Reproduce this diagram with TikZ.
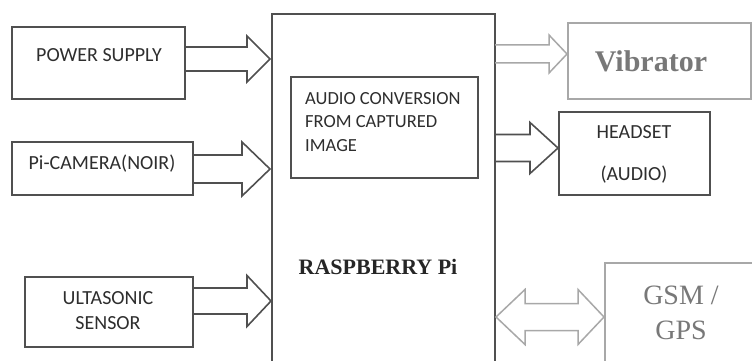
\documentclass[tikz,border=0pt]{standalone}
\usepackage{fontspec}
\setmainfont{Liberation Serif}
\newfontfamily\calfont{Carlito}
\definecolor{dk}{HTML}{505050}
\definecolor{lt}{HTML}{A8A8A8}
\definecolor{txt}{HTML}{2E2E2E}
\definecolor{ltxt}{HTML}{787878}
\newcommand\blockarr[7]{% style, x0, yc, sh, hh, xb, xt
  \draw[#1] ({#2},{#3-#4}) -- ({#6},{#3-#4}) -- ({#6},{#3-#5}) -- ({#7},{#3}) -- ({#6},{#3+#5}) -- ({#6},{#3+#4}) -- ({#2},{#3+#4});}
\begin{document}
\begin{tikzpicture}[x=1pt,y=-1pt,
  dbox/.style={draw=dk,line width=1.6pt,inner sep=0pt},
  lbox/.style={draw=lt,line width=1.5pt,inner sep=0pt},
  darr/.style={draw=dk,line width=1.6pt,line join=miter},
  larr/.style={draw=lt,line width=1.5pt,line join=miter},
  sanslab/.style={inner sep=0pt,text=txt,font=\calfont\fontsize{20}{25}\selectfont,align=center},
  audlab/.style={inner sep=0pt,text=txt,font=\calfont\fontsize{18.5}{23.5}\selectfont,align=left}]
\useasboundingbox (0,0) rectangle (752,361);
\clip (0,0) rectangle (752,361);
\fill[white] (0,0) rectangle (752,361);
% boxes
\node[dbox,minimum width=173pt,minimum height=72pt] (ps) at (98.5,63) {};
\node[dbox,minimum width=181pt,minimum height=53pt] (cam) at (102.5,168.5) {};
\node[dbox,minimum width=168pt,minimum height=70pt] (us) at (109,312) {};
\node[dbox,minimum width=223pt,minimum height=420pt] (rpi) at (383.5,224) {};
\node[dbox,line width=1.4pt,minimum width=187pt,minimum height=101pt] (aud) at (384.5,127.5) {};
\node[lbox,minimum width=183pt,minimum height=76pt] (vib) at (659.5,61) {};
\node[dbox,line width=1.4pt,minimum width=151pt,minimum height=83pt] (hs) at (634.5,153.5) {};
\node[lbox,minimum width=200pt,minimum height=160pt] (gsm) at (705,343) {};
% labels
\node[sanslab] (pst) at (99,55) {POWER SUPPLY};
\node[sanslab] (camt) at (102,164) {Pi-CAMERA(NOIR)};
\node[sanslab] (ust) at (108,310.5) {ULTASONIC\\SENSOR};
\node[audlab,anchor=north west] (audt) at (305,92) {AUDIO CONVERSION\\FROM CAPTURED\\IMAGE};
\node[sanslab] (hst1) at (634,132) {HEADSET};
\node[sanslab] (hst2) at (634,175) {(AUDIO)};
\node[inner sep=0pt,text=black!85,font=\fontsize{22}{25}\selectfont\bfseries] (rpit) at (378,267) {RASPBERRY Pi};
\node[inner sep=0pt,text=ltxt,font=\fontsize{30}{34}\selectfont\bfseries] (vibt) at (651,61.5) {Vibrator};
\node[inner sep=0pt,text=ltxt,font=\fontsize{28}{35}\selectfont,anchor=base] (gsmt1) at (681,304) {GSM /};
\node[inner sep=0pt,text=ltxt,font=\fontsize{28}{35}\selectfont,anchor=base] (gsmt2) at (681,339) {GPS};
% block arrows
\blockarr{darr}{185}{59}{12}{23}{247}{270}
\blockarr{darr}{193}{169}{14}{27}{242}{270}
\blockarr{darr}{193}{301}{13}{25.5}{247}{271}
\blockarr{larr}{495}{54}{9}{19}{549}{567}
\blockarr{darr}{495}{148}{13.5}{25.5}{530}{558}
\draw[larr] (496,317) -- (525,{317-27.5}) -- (525,{317-13.5}) -- (578,{317-13.5}) -- (578,{317-27.5}) -- (604,317)
  -- (578,{317+27.5}) -- (578,{317+13.5}) -- (525,{317+13.5}) -- (525,{317+27.5}) -- cycle;
\end{tikzpicture}
\end{document}
